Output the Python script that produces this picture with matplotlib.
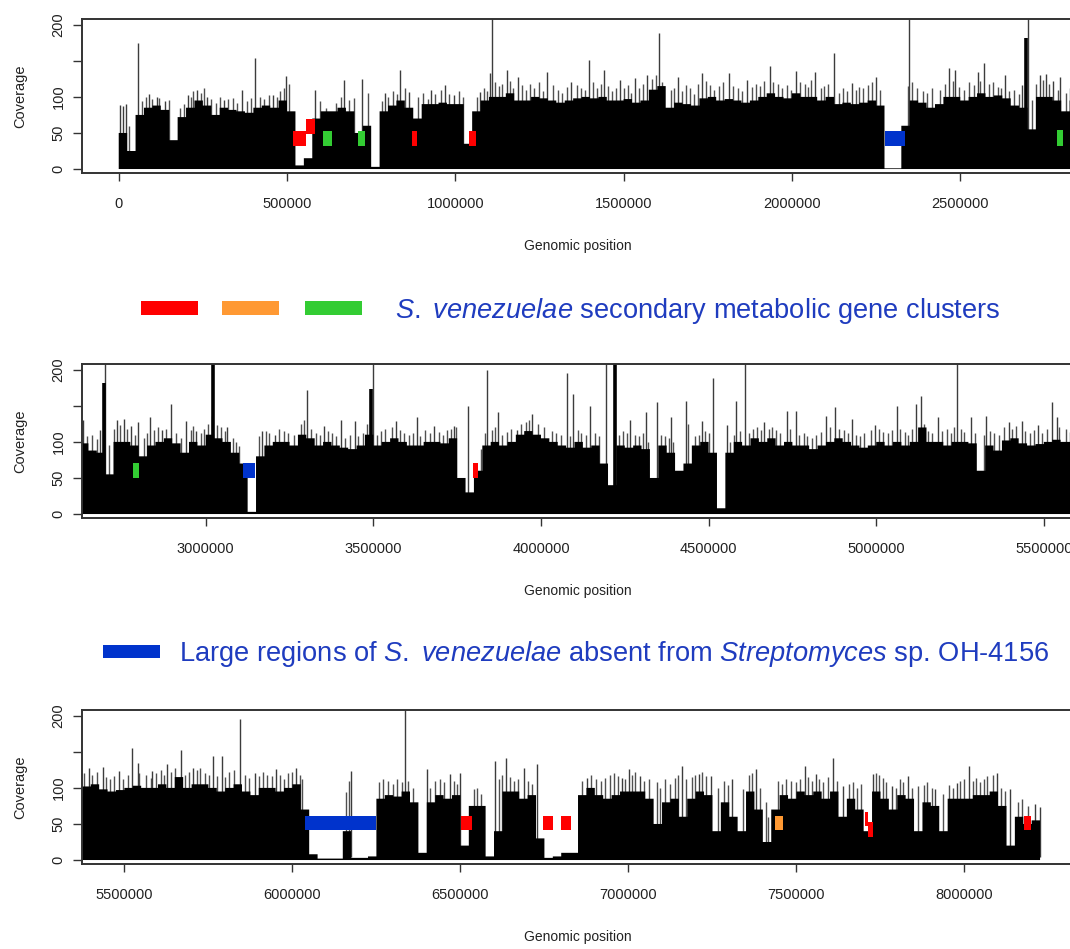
import numpy as np
import matplotlib.pyplot as plt

plt.rcParams['font.family'] = ['Liberation Sans', 'DejaVu Sans']
plt.rcParams['mathtext.fontset'] = 'custom'
plt.rcParams['mathtext.rm'] = 'Liberation Sans'
plt.rcParams['mathtext.it'] = 'Liberation Sans:italic'

# read coverage along the S. venezuelae genome, max of each 25 kb bin
BIN_KB = 25
cov_top = [
    50, 25, 75, 85, 88, 82, 40, 72, 85, 95, 88, 75, 85, 82, 80, 78, 85, 88, 85, 95,
    80, 5, 15, 70, 80, 80, 85, 80, 50, 60, 3, 80, 88, 95, 85, 70, 90, 90, 92, 90,
    90, 35, 80, 95, 100, 100, 105, 95, 95, 100, 98, 95, 92, 95, 98, 100, 98, 100, 95, 95,
    97, 92, 95, 110, 115, 85, 92, 90, 88, 98, 100, 95, 97, 95, 92, 95, 100, 105, 100, 98,
    105, 100, 100, 95, 100, 90, 92, 90, 92, 95, 88, 1, 1, 60, 95, 92, 85, 90, 100, 100,
    95, 100, 105, 100, 102, 98, 88, 85, 55, 100, 100, 95, 80, 95, 100, 105, 98, 85, 100, 95,
    110, 105, 100, 85, 70, 3, 80, 95, 100, 100, 95, 110, 105, 95, 100, 95, 92, 90, 95, 110,
    95, 100, 105, 100, 95, 95, 100, 100, 98, 105, 50, 30, 60, 95, 100, 95, 100, 110, 115, 110,
    105, 100, 95, 92, 100, 92, 95, 70, 40, 95, 92, 95, 90, 50, 95, 85, 60, 70, 95, 100,
    85, 8, 85, 100, 95, 105, 100, 105, 95, 100, 95, 95, 90, 95, 100, 105, 100, 95, 92, 95,
    100, 95, 100, 95, 100, 120, 100, 100, 95, 100, 100, 98, 60, 95, 88, 102, 105, 98, 95, 97,
    100, 103, 100, 100, 105, 100, 115, 100, 105, 105, 100, 95, 100, 105, 95, 90, 100, 100, 95, 100,
    105, 70, 8, 2, 2, 2, 40, 3, 3, 5, 85, 90, 88, 95, 80, 10, 80, 90, 85, 90,
    20, 75, 75, 5, 40, 95, 95, 85, 90, 30, 3, 5, 10, 10, 90, 100, 90, 85, 90, 95,
    95, 95, 85, 50, 80, 85, 60, 85, 95, 90, 40, 80, 60, 40, 95, 70, 25, 70, 90, 85,
    95, 90, 95, 85, 95, 60, 85, 70, 40, 95, 85, 70, 90, 85, 40, 80, 75, 40, 85, 85,
    85, 90, 90, 95, 75, 20, 60, 50, 55,
]

# tall single-position peaks (kb, coverage)
peak_kb = [
    5, 12, 21, 58, 89, 113, 137, 205, 233, 262, 313, 365, 406, 457, 498, 583, 670, 722,
    791, 837, 863, 929, 970, 996, 1073, 1104, 1109, 1153, 1186, 1273, 1345, 1396, 1442,
    1488, 1534, 1570, 1604, 1662, 1734, 1813, 1866, 1935, 2012, 2069, 2125, 2178, 2250,
    2347, 2468, 2485, 2552, 2570, 2634, 2684, 2700, 2736, 2756, 2777, 2797, 2833, 2869,
    2895, 2941, 2970, 3018, 3064, 3167, 3208, 3301, 3352, 3403, 3444, 3499, 3568, 3629,
    3681, 3742, 3783, 3840, 3871, 3927, 3974, 4078, 4096, 4147, 4195, 4265, 4312, 4345,
    4389, 4432, 4481, 4512, 4556, 4582, 4610, 4666, 4733, 4760, 4851, 4877, 4928, 4995,
    5061, 5118, 5133, 5185, 5241, 5282, 5328, 5395, 5436, 5484, 5523, 5540, 5581, 5627,
    5668, 5704, 5763, 5791, 5844, 5888, 5950, 6011, 6175, 6334, 6401, 6468, 6498, 6604,
    6637, 6688, 6728, 6877, 6981, 7002, 7035, 7158, 7210, 7245, 7307, 7381, 7524, 7558,
    7609, 7640, 7727, 7783, 7832, 7912, 7978, 8014, 8098, 8137, 8209, 8224,
]
peak_cov = [
    89, 87, 90, 175, 104, 100, 94, 103, 110, 100, 96, 110, 154, 103, 129, 109, 124, 125,
    106, 137, 107, 110, 117, 103, 107, 133, 230, 137, 128, 135, 121, 151, 137,
    124, 126, 130, 188, 128, 133, 133, 124, 143, 136, 135, 161, 119, 128,
    230, 140, 137, 135, 147, 130, 117, 230, 131, 132, 122, 128, 134, 117,
    152, 129, 115, 136, 120, 115, 110, 172, 122, 131, 129, 230, 129, 134,
    122, 122, 150, 200, 141, 117, 138, 196, 166, 150, 230, 131, 141, 155,
    134, 157, 129, 189, 124, 157, 230, 127, 143, 143, 136, 148, 132, 123,
    150, 152, 164, 134, 230, 134, 136, 127, 129, 123, 156, 135, 123, 133,
    153, 128, 144, 144, 195, 121, 126, 128, 123, 230, 126, 119, 121, 137,
    142, 128, 133, 114, 114, 126, 116, 130, 119, 116, 112, 126, 130, 119,
    141, 102, 119, 102, 116, 98, 107, 130, 121, 98, 77, 74,
]

# smaller spikes just above the bulk (kb, coverage)
hair_peaks = [
    (30, 60), (70, 95), (80, 100), (100, 97), (120, 98), (148, 96), (182, 85), (195, 90),
    (215, 100), (222, 108), (245, 106), (252, 112), (275, 97), (290, 92), (300, 100),
    (325, 97), (340, 98), (352, 92), (380, 95), (392, 98), (420, 100), (432, 97), (445, 102),
    (470, 100), (480, 108), (490, 112), (505, 118), (598, 95), (615, 84), (645, 92),
    (660, 100), (685, 96), (698, 98), (740, 105), (782, 95), (800, 100), (815, 108),
    (828, 104), (850, 112), (890, 100), (905, 105), (918, 97), (940, 104), (958, 110),
    (982, 104), (1010, 108), (1022, 100), (1065, 100), (1085, 112), (1095, 108), (1118, 120),
    (1130, 115), (1140, 118), (1162, 122), (1172, 112), (1198, 116), (1210, 110), (1222, 118),
    (1235, 112), (1248, 120), (1260, 108), (1290, 117), (1305, 110), (1318, 106), (1332, 114),
    (1360, 116), (1372, 112), (1385, 110), (1410, 120), (1420, 112), (1432, 118), (1455, 115),
    (1465, 108), (1478, 113), (1500, 112), (1512, 116), (1522, 106), (1545, 112), (1558, 118),
    (1585, 125), (1595, 130), (1615, 120), (1640, 110), (1650, 112), (1672, 108), (1685, 116),
    (1698, 112), (1710, 104), (1722, 118), (1745, 122), (1758, 116), (1768, 110), (1782, 115),
    (1795, 120), (1825, 115), (1840, 112), (1852, 108), (1880, 114), (1892, 118), (1905, 115),
    (1918, 122), (1945, 120), (1958, 118), (1970, 112), (1985, 116), (1998, 110), (2025, 120),
    (2038, 118), (2048, 114), (2058, 124), (2085, 112), (2095, 115), (2108, 118), (2140, 106),
    (2152, 112), (2165, 108), (2190, 110), (2200, 114), (2212, 112), (2225, 116), (2238, 120),
    (2262, 110), (2345, 115), (2358, 120), (2372, 112), (2390, 108), (2402, 105), (2415, 112),
    (2440, 110), (2455, 118), (2478, 122), (2495, 114), (2510, 110), (2525, 120), (2540, 116),
    (2560, 122), (2585, 118), (2598, 120), (2612, 114), (2622, 112), (2645, 108), (2660, 110),
    (2675, 104), (2712, 96), (2725, 118), (2745, 124), (2765, 118), (2790, 110), (2815, 106),
    (2825, 112), (2845, 116), (2858, 120), (2880, 118), (2910, 112), (2925, 106), (2955, 116),
    (2962, 122), (2985, 112), (2995, 118), (3008, 125), (3035, 124), (3045, 120), (3058, 115),
    (3080, 106), (3090, 100), (3100, 95), (3160, 108), (3180, 115), (3190, 112), (3220, 118),
    (3232, 115), (3245, 112), (3262, 110), (3285, 125), (3292, 130), (3315, 118), (3328, 112),
    (3340, 110), (3365, 115), (3378, 112), (3390, 108), (3415, 105), (3430, 110), (3455, 108),
    (3470, 112), (3482, 125), (3510, 110), (3522, 115), (3535, 118), (3555, 120), (3580, 116),
    (3592, 112), (3605, 110), (3618, 112), (3640, 108), (3655, 116), (3668, 112), (3695, 114),
    (3708, 110), (3720, 116), (3732, 118), (3748, 120), (3820, 90), (3832, 112), (3855, 116),
    (3862, 120), (3885, 110), (3898, 114), (3910, 118), (3940, 125), (3955, 128), (3965, 130),
    (3990, 125), (4010, 120), (4032, 115), (4045, 112), (4060, 110), (4088, 108), (4110, 116),
    (4120, 112), (4135, 110), (4160, 112), (4172, 108), (4232, 110), (4245, 115), (4258, 112),
    (4280, 110), (4292, 108), (4305, 112), (4318, 100), (4358, 110), (4370, 108), (4382, 106),
    (4395, 100), (4440, 125), (4460, 108), (4470, 110), (4490, 115), (4500, 112), (4565, 100),
    (4575, 110), (4595, 115), (4620, 112), (4632, 118), (4645, 120), (4655, 116), (4680, 118),
    (4690, 120), (4700, 116), (4712, 112), (4742, 118), (4770, 110), (4785, 112), (4795, 108),
    (4808, 106), (4820, 110), (4835, 114), (4862, 120), (4890, 118), (4905, 116), (4915, 112),
    (4940, 110), (4952, 108), (4965, 112), (4985, 116), (5008, 118), (5020, 114), (5035, 112),
    (5048, 116), (5072, 118), (5085, 114), (5095, 110), (5108, 118), (5142, 125), (5155, 115),
    (5165, 112), (5195, 115), (5210, 118), (5222, 112), (5232, 120), (5252, 118), (5262, 114),
    (5295, 112), (5322, 110), (5340, 115), (5352, 112), (5365, 110), (5380, 120), (5405, 118),
    (5418, 122), (5445, 115), (5458, 112), (5470, 116), (5495, 112), (5510, 118), (5545, 120),
    (5565, 118), (5578, 114), (5595, 120), (5610, 125), (5618, 118), (5640, 122), (5652, 128),
    (5680, 118), (5692, 122), (5715, 125), (5725, 128), (5740, 120), (5752, 118), (5775, 116),
    (5800, 115), (5812, 122), (5825, 125), (5858, 118), (5870, 114), (5900, 116), (5912, 122),
    (5925, 118), (5938, 116), (5962, 118), (5975, 112), (5988, 120), (6000, 122), (6022, 118),
    (6030, 112), (6160, 95), (6168, 110), (6258, 108), (6270, 112), (6285, 110), (6298, 105),
    (6312, 112), (6325, 108), (6345, 110), (6358, 100), (6410, 100), (6425, 110), (6438, 112),
    (6452, 108), (6480, 110), (6490, 105), (6540, 98), (6550, 100), (6560, 92), (6615, 112),
    (6625, 118), (6648, 115), (6660, 110), (6672, 112), (6700, 110), (6712, 105), (6862, 110),
    (6890, 118), (6905, 112), (6918, 110), (6930, 114), (6945, 118), (6958, 120), (6968, 116),
    (6990, 112), (7012, 118), (7020, 122), (7045, 110), (7062, 112), (7085, 108), (7095, 100),
    (7110, 112), (7125, 106), (7138, 114), (7148, 118), (7170, 112), (7188, 115), (7198, 118),
    (7220, 122), (7232, 116), (7268, 100), (7285, 110), (7295, 104), (7340, 98), (7358, 118),
    (7368, 120), (7392, 100), (7408, 80), (7415, 60), (7445, 110), (7458, 105), (7470, 112),
    (7485, 110), (7498, 108), (7510, 112), (7535, 115), (7545, 110), (7568, 112), (7580, 108),
    (7595, 115), (7620, 110), (7655, 105), (7668, 108), (7680, 100), (7692, 105), (7738, 120),
    (7745, 118), (7758, 114), (7768, 108), (7795, 100), (7808, 112), (7818, 108), (7845, 100),
    (7862, 102), (7880, 104), (7890, 108), (7902, 100), (7935, 92), (7955, 104), (7965, 100),
    (7988, 110), (8000, 112), (8025, 110), (8035, 114), (8045, 108), (8058, 112), (8068, 116),
    (8085, 118), (8110, 100), (8120, 96), (8160, 80), (8172, 84), (8190, 75),
]

# broad, solid peaks
wide_kb = [2696, 3023, 3494, 4222]
wide_cov = [182, 230, 173, 230]

# annotated regions per panel: (start kb, end kb, bottom, top, kind)
boxes_1 = [
    (518, 555, 32, 53, 'sm1'), (555, 582, 48, 69, 'sm1'), (608, 635, 32, 53, 'sm3'),
    (712, 731, 32, 53, 'sm3'), (870, 885, 32, 53, 'sm1'), (1040, 1061, 32, 53, 'sm1'),
    (2276, 2337, 32, 53, 'absent'), (2787, 2806, 32, 54, 'sm3'),
]
boxes_2 = [
    (2784, 2802, 50, 71, 'sm3'), (3111, 3147, 50, 71, 'absent'), (3796, 3812, 50, 71, 'sm1'),
]
boxes_3 = [
    (6039, 6250, 41, 61, 'absent'), (6503, 6534, 41, 61, 'sm1'), (6746, 6775, 41, 61, 'sm1'),
    (6800, 6828, 41, 61, 'sm1'), (7437, 7461, 41, 61, 'sm2'), (7703, 7714, 47, 67, 'sm1'),
    (7714, 7727, 32, 53, 'sm1'), (8176, 8197, 41, 61, 'sm1'),
]
kind_color = {'sm1': '#ff0000', 'sm2': '#ff9933', 'sm3': '#33cc33', 'absent': '#0033cc'}

panel_xlim = [(-110000, 2838000), (2630000, 5590000), (5373000, 8326000)]
panel_xticks = [
    [0, 500000, 1000000, 1500000, 2000000, 2500000],
    [3000000, 3500000, 4000000, 4500000, 5000000, 5500000],
    [5500000, 6000000, 6500000, 7000000, 7500000, 8000000],
]
panel_boxes = [boxes_1, boxes_2, boxes_3]

W, H = 1070, 949
fig = plt.figure(figsize=(W / 100, H / 100), dpi=100)

edges = np.arange(len(cov_top) + 1) * BIN_KB * 1000
tops = np.append(cov_top, cov_top[-1])
peak_bp = np.array(peak_kb) * 1000
wide_bp = np.array(wide_kb) * 1000
hair_bp = np.array([p[0] for p in hair_peaks]) * 1000
hair_cov = [p[1] for p in hair_peaks]

ax_top_px = [19, 364, 710]
ax_h_px = 154
left_px, right_px = 81.7, 1074

for k in range(3):
    bottom = 1 - (ax_top_px[k] + ax_h_px) / H
    ax = fig.add_axes([left_px / W, bottom, (right_px - left_px) / W, ax_h_px / H])

    # spikes sit behind the bulk so only the part above it shows;
    # start them a little above zero so their ends don't speckle the baseline
    ax.vlines(hair_bp, 4, hair_cov, color='#505050', lw=1.0, zorder=1)
    ax.vlines(peak_bp, 4, peak_cov, color='#3c3c3c', lw=1.0, zorder=1)
    ax.vlines(wide_bp, 4, wide_cov, color='black', lw=2.6, zorder=1)
    ax.fill_between(edges, 0, tops, step='post', color='black', lw=0, zorder=2)

    for s, e, lo, hi, kind in panel_boxes[k]:
        ax.bar(s * 1000, hi - lo, width=(e - s) * 1000, bottom=lo, align='edge',
               color=kind_color[kind], lw=0, zorder=3)

    ax.set_xlim(*panel_xlim[k])
    ax.set_ylim(-5.5, 208)
    ax.set_xticks(panel_xticks[k])
    ax.set_xticklabels([str(t) for t in panel_xticks[k]])
    ax.set_yticks([0, 50, 100, 150, 200])
    ax.set_yticklabels(['0', '50', '100', '', '200'])
    ax.tick_params(axis='x', length=6, width=1, color='#333333', pad=11,
                   labelsize=10.5, labelcolor='#222222')
    ax.tick_params(axis='y', length=6.5, width=1, color='#333333', pad=5,
                   labelsize=10.5, labelcolor='#222222', labelrotation=90)
    for lab in ax.get_yticklabels():
        lab.set_va('center')
    for sp in ax.spines.values():
        sp.set_color('#333333')
        sp.set_linewidth(1.4)

    ax.set_xlabel('Genomic position', fontsize=10, color='#222222')
    ax.xaxis.set_label_coords(0.5, -0.43)
    ax.set_ylabel('Coverage', fontsize=10.5, color='#222222')
    ax.yaxis.set_label_coords(-0.055, 0.5)

# legend strip between the panels, drawn in pixel coordinates
ov = fig.add_axes([0, 0, 1, 1])
ov.set_xlim(0, W)
ov.set_ylim(H, 0)
ov.axis('off')

legend_blue = '#1f3cbf'
for x0, kind in zip([141, 222, 305], ['sm1', 'sm2', 'sm3']):
    ov.add_patch(plt.Rectangle((x0, 301), 57, 14, color=kind_color[kind], lw=0))
ov.text(395, 318, r'$\mathit{S.\ venezuelae}$ secondary metabolic gene clusters',
        fontsize=19.6, color=legend_blue, family='Liberation Sans', va='baseline')

ov.add_patch(plt.Rectangle((103, 645), 57, 13, color=kind_color['absent'], lw=0))
ov.text(179, 661, r'Large regions of $\mathit{S.\ venezuelae}$ absent from '
        r'$\mathit{Streptomyces}$ sp. OH-4156',
        fontsize=19.6, color=legend_blue, family='Liberation Sans', va='baseline')

fig.savefig('out.png', dpi=100)
